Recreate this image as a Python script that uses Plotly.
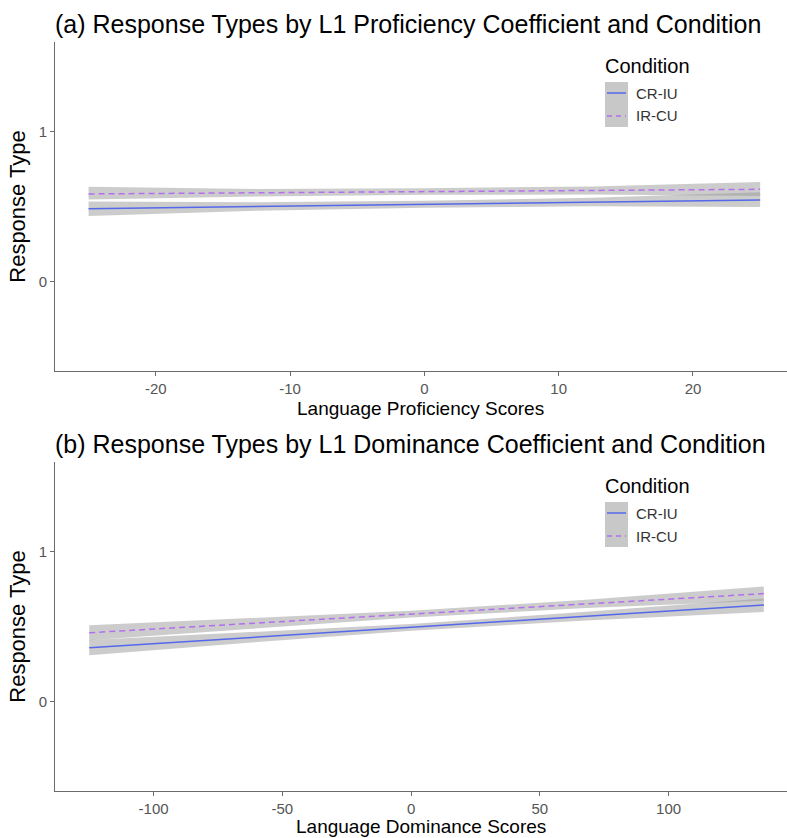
import plotly.graph_objects as go

# ---- data ----
conditions = ["CR-IU", "IR-CU"]

prof_x = [-25, -12.5, 0, 12.5, 25]
prof_cr_fit = [0.485, 0.500, 0.515, 0.530, 0.544]
prof_cr_lo = [0.437, 0.472, 0.492, 0.502, 0.497]
prof_cr_hi = [0.533, 0.528, 0.538, 0.558, 0.596]
prof_ir_fit = [0.584, 0.592, 0.600, 0.607, 0.615]
prof_ir_lo = [0.546, 0.567, 0.578, 0.580, 0.570]
prof_ir_hi = [0.632, 0.617, 0.622, 0.634, 0.664]

dom_x = [-125, -62, 0, 68, 137]
dom_cr_fit = [0.358, 0.427, 0.494, 0.569, 0.644]
dom_cr_lo = [0.307, 0.393, 0.472, 0.540, 0.597]
dom_cr_hi = [0.409, 0.461, 0.516, 0.598, 0.688]
dom_ir_fit = [0.458, 0.521, 0.583, 0.651, 0.720]
dom_ir_lo = [0.408, 0.487, 0.561, 0.623, 0.673]
dom_ir_hi = [0.508, 0.555, 0.605, 0.679, 0.767]

y_ticks = [0, 1]
prof_ticks = [-20, -10, 0, 10, 20]
prof_ticklabels = ["-20", "-10", "0", "10", "20"]
dom_ticks = [-100, -50, 0, 50, 100]
dom_ticklabels = ["-100", "-50", "0", "50", "100"]

BLUE = "#5468ea"
PURPLE = "#b36ef0"
BAND = "rgba(153,153,153,0.5)"
FONT = "Liberation Sans, Arial, sans-serif"

W, H = 787, 838
fig = go.Figure()


def add_panel(xs, series, xa, ya):
    for fit, lo, hi, col, dash in series:
        fig.add_trace(go.Scatter(x=xs + xs[::-1], y=hi + lo[::-1], mode="lines", fill="toself",
                                 fillcolor=BAND, line=dict(width=0), hoverinfo="skip",
                                 showlegend=False, xaxis=xa, yaxis=ya))
    for fit, lo, hi, col, dash in series:
        fig.add_trace(go.Scatter(x=xs, y=fit, mode="lines",
                                 line=dict(color=col, width=1.5, dash=dash),
                                 showlegend=False, xaxis=xa, yaxis=ya))


add_panel(prof_x, [(prof_cr_fit, prof_cr_lo, prof_cr_hi, BLUE, "solid"),
                   (prof_ir_fit, prof_ir_lo, prof_ir_hi, PURPLE, "6px,4px")], "x", "y")
add_panel(dom_x, [(dom_cr_fit, dom_cr_lo, dom_cr_hi, BLUE, "solid"),
                  (dom_ir_fit, dom_ir_lo, dom_ir_hi, PURPLE, "6px,4px")], "x2", "y2")


def px_x(p):
    return p / W


def px_y(p):
    return 1 - p / H


axis_common = dict(showgrid=False, zeroline=False, showline=True, linecolor="#6b6b6b",
                   linewidth=1, ticks="outside", ticklen=4, tickcolor="#6b6b6b",
                   tickfont=dict(family=FONT, size=15, color="#555555"))
xt = dict(family=FONT, size=19, color="black")
yt = dict(family=FONT, size=22, color="black")

xdom = [px_x(55), 1.0]
fig.update_layout(
    width=W, height=H, margin=dict(l=0, r=0, t=0, b=0),
    plot_bgcolor="white", paper_bgcolor="white",
    xaxis=dict(domain=xdom, range=[-27.5, 27.0], tickvals=prof_ticks, ticktext=prof_ticklabels,
               anchor="y", **axis_common),
    yaxis=dict(domain=[px_y(371), px_y(42)], range=[-0.6, 1.6], tickvals=y_ticks, anchor="x",
               title=dict(text="Response Type", font=yt, standoff=6), **axis_common),
    xaxis2=dict(domain=xdom, range=[-138.3, 146], tickvals=dom_ticks, ticktext=dom_ticklabels,
                anchor="y2", **axis_common),
    yaxis2=dict(domain=[px_y(791), px_y(462)], range=[-0.6, 1.6], tickvals=y_ticks, anchor="x2",
                title=dict(text="Response Type", font=yt, standoff=6), **axis_common),
)

# x-axis titles, centred under each panel
xcenter = (55 + W) / 2
for t, ty in zip(["Language Proficiency Scores", "Language Dominance Scores"], [408, 826]):
    fig.add_annotation(text=t, xref="paper", yref="paper", x=px_x(xcenter), y=px_y(ty),
                       xanchor="center", yanchor="middle", showarrow=False, font=xt)

titles = ["(a) Response Types by L1 Proficiency Coefficient and Condition",
          "(b) Response Types by L1 Dominance Coefficient and Condition"]
for t, ty in zip(titles, [24, 444]):
    fig.add_annotation(text=t, xref="paper", yref="paper", x=px_x(53), y=px_y(ty),
                       xanchor="left", yanchor="middle", showarrow=False,
                       font=dict(family=FONT, size=25, color="black"))

# legends (one per panel)
for off in [0, 420]:
    fig.add_annotation(text="Condition", xref="paper", yref="paper", x=px_x(603), y=px_y(66 + off),
                       xanchor="left", yanchor="middle", showarrow=False,
                       font=dict(family=FONT, size=20, color="black"))
    fig.add_shape(type="rect", xref="paper", yref="paper", x0=px_x(605), x1=px_x(628),
                  y0=px_y(82 + off), y1=px_y(127 + off), fillcolor="#c8c8c8", line=dict(width=0))
    fig.add_shape(type="line", xref="paper", yref="paper", x0=px_x(607), x1=px_x(626),
                  y0=px_y(93 + off), y1=px_y(93 + off), line=dict(color=BLUE, width=1.5))
    fig.add_shape(type="line", xref="paper", yref="paper", x0=px_x(607), x1=px_x(626),
                  y0=px_y(116 + off), y1=px_y(116 + off), line=dict(color=PURPLE, width=1.5, dash="5px,4px"))
    for name, yy in zip(conditions, [93, 116]):
        fig.add_annotation(text=name, xref="paper", yref="paper", x=px_x(634), y=px_y(yy + off),
                           xanchor="left", yanchor="middle", showarrow=False,
                           font=dict(family=FONT, size=15, color="#333333"))

fig.write_html("out.html")
